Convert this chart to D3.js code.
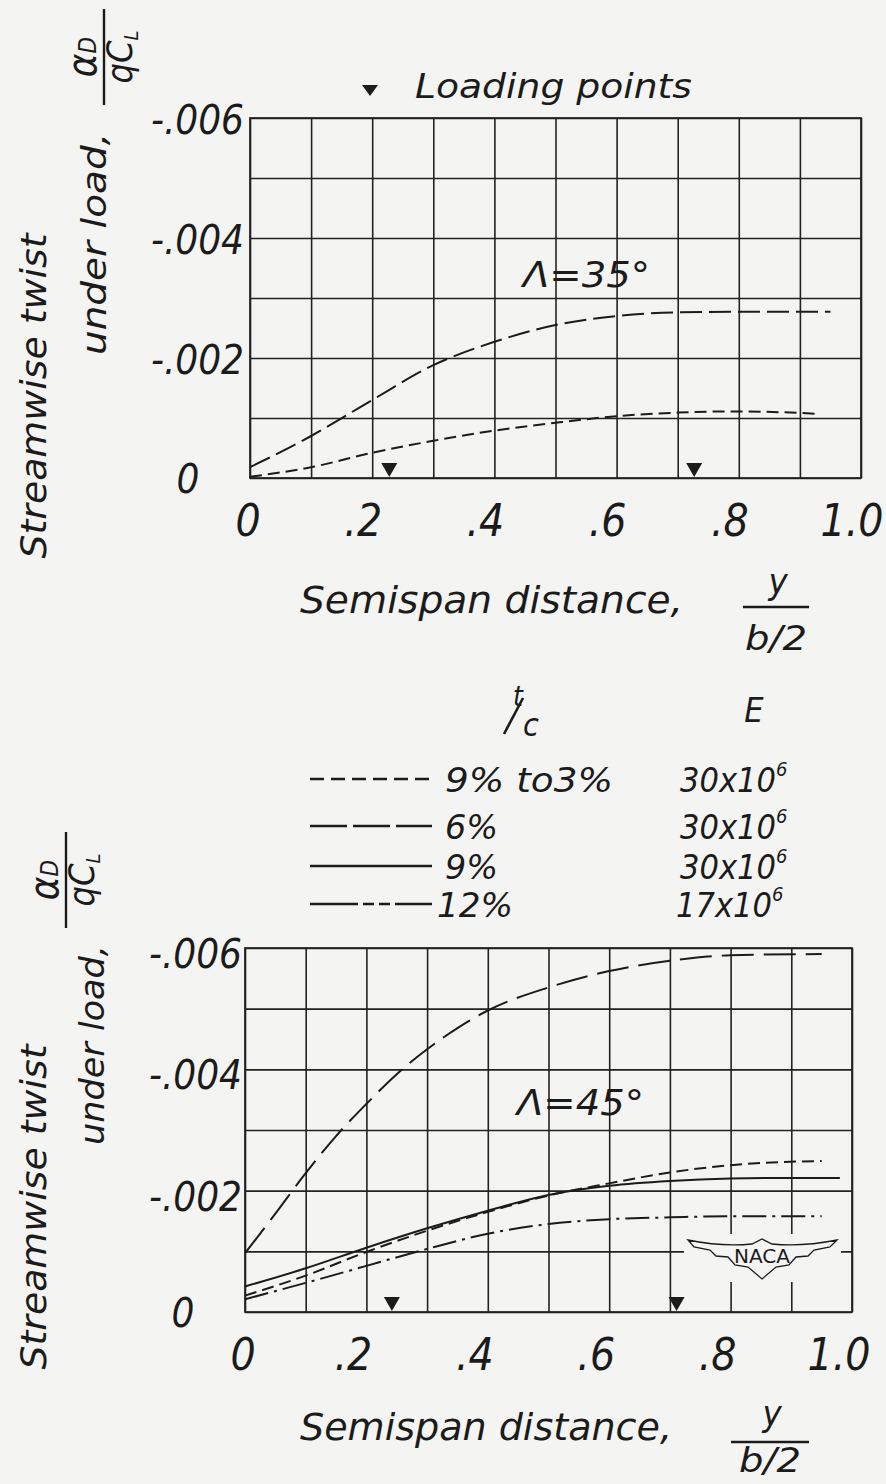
<!DOCTYPE html>
<html>
<head>
<meta charset="utf-8">
<script src="https://cdn.jsdelivr.net/npm/d3@7"></script>
<style>
  body { margin: 0; background: #f4f4f2; }
  svg text { font-family: "DejaVu Sans", "Noto Sans", sans-serif; font-style: oblique; font-stretch: condensed; fill: #1b1b1b; }
</style>
</head>
<body>
<svg id="fig" width="886" height="1484"></svg>
<script>
// ---- axis ticks ----
const xTicks = [0, 0.2, 0.4, 0.6, 0.8, 1.0];
const xTickLabels = ["0", ".2", ".4", ".6", ".8", "1.0"];
const yTicks = [0, -0.002, -0.004, -0.006];
const yTickLabels = ["0", "-.002", "-.004", "-.006"];

// ---- legend entries: t/c and E ----
const seriesKeys = ["t93", "t6", "t9", "t12"];
const seriesTc = ["9% to3%", "6%", "9%", "12%"];
const seriesE = ["30x10", "30x10", "30x10", "17x10"];

// ---- sweep 35 deg: streamwise twist per qC_L vs y/(b/2) ----
const s35_t6_x  = [0, 0.1, 0.2, 0.3, 0.4, 0.5, 0.6, 0.7, 0.8, 0.95];
const s35_t6_y  = [-0.00018, -0.00070, -0.00130, -0.00188, -0.00227, -0.00255, -0.00270, -0.00276, -0.00277, -0.00277];
const s35_t93_x = [0, 0.1, 0.2, 0.3, 0.4, 0.5, 0.6, 0.7, 0.8, 0.93];
const s35_t93_y = [-0.00002, -0.00018, -0.00042, -0.00062, -0.00079, -0.00092, -0.00103, -0.00109, -0.00111, -0.00107];
const s35_loads = [0.228, 0.727];

// ---- sweep 45 deg ----
const s45_t6_x  = [0, 0.05, 0.1, 0.15, 0.2, 0.25, 0.3, 0.35, 0.4, 0.5, 0.6, 0.7, 0.8, 0.95];
const s45_t6_y  = [-0.00097, -0.00162, -0.00229, -0.00290, -0.00343, -0.00392, -0.00433, -0.00468, -0.00497, -0.00535, -0.00562, -0.00579, -0.00588, -0.00590];
const s45_t9_x  = [0, 0.1, 0.2, 0.3, 0.4, 0.5, 0.6, 0.7, 0.8, 0.9, 0.98];
const s45_t9_y  = [-0.00042, -0.00072, -0.00106, -0.00138, -0.00167, -0.00193, -0.00208, -0.00216, -0.00220, -0.00221, -0.00221];
const s45_t93_x = [0, 0.1, 0.2, 0.3, 0.4, 0.5, 0.6, 0.7, 0.8, 0.95];
const s45_t93_y = [-0.00027, -0.00060, -0.00099, -0.00134, -0.00165, -0.00192, -0.00212, -0.00230, -0.00242, -0.00249];
const s45_t12_x = [0, 0.1, 0.2, 0.3, 0.4, 0.5, 0.6, 0.7, 0.8, 0.95];
const s45_t12_y = [-0.00021, -0.00048, -0.00076, -0.00104, -0.00129, -0.00145, -0.00153, -0.00156, -0.00158, -0.00158];
const s45_loads = [0.242, 0.711];

const INK = "#1b1b1b";
const BG = "#f4f4f2";
const svg = d3.select("#fig");
svg.append("rect").attr("width", 886).attr("height", 1484).attr("fill", BG);

const zip = (xs, ys) => xs.map((v, i) => [v, ys[i]]);

function label(g, str, x, y, size, opts = {}) {
  const t = g.append("text").attr("x", x).attr("y", y).attr("font-size", size).text(str);
  if (opts.anchor) t.attr("text-anchor", opts.anchor);
  if (opts.len) t.attr("textLength", opts.len).attr("lengthAdjust", "spacingAndGlyphs");
  if (opts.rotate) t.attr("transform", `rotate(-90,${x},${y})`);
  return t;
}

// rotated "alpha_D / q C_L" fraction
function alphaFrac(cy, barX) {
  const g = svg.append("g");
  g.append("line").attr("x1", barX).attr("x2", barX).attr("y1", cy - 48).attr("y2", cy + 48)
    .attr("stroke", INK).attr("stroke-width", 2.4);
  const num = g.append("text").attr("transform", `translate(${barX - 8},${cy}) rotate(-90)`)
    .attr("text-anchor", "middle").attr("font-size", 40);
  num.append("tspan").text("α");
  num.append("tspan").attr("font-size", 24).text("D");
  const den = g.append("text").attr("transform", `translate(${barX + 28},${cy}) rotate(-90)`)
    .attr("text-anchor", "middle").attr("font-size", 36);
  den.append("tspan").text("qC");
  den.append("tspan").attr("font-size", 20).attr("dy", 6).text("L");
}

// y / (b/2) fraction
function spanFrac(cx, yTop, barY, yBot, barW) {
  const g = svg.append("g");
  label(g, "y", cx + 2, yTop, 36, { anchor: "middle" });
  g.append("line").attr("x1", cx - barW / 2).attr("x2", cx + barW / 2).attr("y1", barY).attr("y2", barY)
    .attr("stroke", INK).attr("stroke-width", 2.4);
  label(g, "b/2", cx, yBot, 34, { anchor: "middle", len: 62 });
}

function chart(o) {
  const x = d3.scaleLinear().domain([0, 1]).range([o.l, o.r]);
  const y = d3.scaleLinear().domain([0, -0.006]).range([o.b, o.t]);
  const g = svg.append("g");

  // grid
  const gx = g.append("g").attr("transform", `translate(0,${o.b})`)
    .call(d3.axisBottom(x).ticks(10).tickSize(-(o.b - o.t)).tickFormat(""));
  const gy = g.append("g").attr("transform", `translate(${o.l},0)`)
    .call(d3.axisLeft(y).ticks(6).tickSize(-(o.r - o.l)).tickFormat(""));
  [gx, gy].forEach(a => {
    a.select(".domain").remove();
    a.selectAll("line").attr("stroke", "#222").attr("stroke-width", 1.6);
  });
  g.append("rect").attr("x", o.l).attr("y", o.t).attr("width", o.r - o.l).attr("height", o.b - o.t)
    .attr("fill", "none").attr("stroke", "#222").attr("stroke-width", 1.7);

  if (o.logo) o.logo(g, x, y);

  // curves
  const line = d3.line().x(d => x(d[0])).y(d => y(d[1])).curve(d3.curveMonotoneX);
  o.series.forEach(s => {
    g.append("path").attr("d", line(s.pts)).attr("fill", "none")
      .attr("stroke", INK).attr("stroke-width", 2)
      .attr("stroke-dasharray", s.dash || null);
  });

  // loading points
  o.loads.forEach(v => {
    const cx = x(v), by = y(0);
    g.append("path").attr("d", `M${cx - 8},${by - 15}L${cx + 8},${by - 15}L${cx},${by - 1}Z`).attr("fill", INK);
  });

  // tick labels
  xTicks.forEach((v, i) => {
    label(g, xTickLabels[i], x(v) + (v === 0 ? -2 : o.xlabDx), o.b + 58, 44, { anchor: "middle" });
  });
  yTicks.forEach((v, i) => {
    if (v === 0) label(g, yTickLabels[i], o.l - 62, y(v) + 15, 40, { anchor: "middle" });
    else label(g, yTickLabels[i], o.l - o.ylabGap, y(v) + o.ylabDy, 40, { anchor: "end" });
  });

  // sweep angle
  label(g, o.sweep, o.sweepX, o.sweepY, 36, { len: 127 });
}

// ---------- upper chart: sweep 35 deg ----------
chart({
  l: 250, r: 861, t: 118, b: 478,
  xlabDx: -9, ylabGap: 6, ylabDy: 16,
  sweep: "Λ=35°", sweepX: 523, sweepY: 287,
  loads: s35_loads,
  series: [
    { pts: zip(s35_t6_x, s35_t6_y), dash: "22,7" },
    { pts: zip(s35_t93_x, s35_t93_y), dash: "12,6" }
  ]
});

// ---------- lower chart: sweep 45 deg ----------
chart({
  l: 245, r: 852, t: 948, b: 1312,
  xlabDx: -13, ylabGap: 3, ylabDy: 20,
  sweep: "Λ=45°", sweepX: 517, sweepY: 1115,
  loads: s45_loads,
  series: [
    { pts: zip(s45_t6_x, s45_t6_y), dash: "32,10" },
    { pts: zip(s45_t9_x, s45_t9_y), dash: null },
    { pts: zip(s45_t93_x, s45_t93_y), dash: "12,6" },
    { pts: zip(s45_t12_x, s45_t12_y), dash: "24,6,3,6" }
  ],
  logo: (g) => {
    const lg = g.append("g");
    lg.append("rect").attr("x", 684).attr("y", 1234).attr("width", 157).attr("height", 48).attr("fill", BG);
    lg.append("path")
      .attr("d", "M688,1240 Q722,1247 752,1244 L762,1239 L772,1244 Q802,1247 837,1240 L830,1247 L814,1250 L808,1256 L796,1257 L789,1265 L776,1267 L762,1279 L748,1267 L735,1265 L728,1257 L716,1256 L710,1250 L694,1247 Z")
      .attr("fill", "none").attr("stroke", INK).attr("stroke-width", 1.3);
    lg.append("text").attr("x", 762).attr("y", 1263).attr("text-anchor", "middle")
      .attr("font-size", 20).style("font-style", "normal").attr("textLength", 56)
      .attr("lengthAdjust", "spacingAndGlyphs").text("NACA");
  }
});

// ---------- axis titles ----------
const titles = svg.append("g");
label(titles, "Streamwise twist", 46, 396, 36, { anchor: "middle", rotate: true, len: 325 });
label(titles, "under load,", 106, 244, 34, { anchor: "middle", rotate: true, len: 222 });
label(titles, "Streamwise twist", 46, 1207, 36, { anchor: "middle", rotate: true, len: 325 });
label(titles, "under load,", 104, 1045, 34, { anchor: "middle", rotate: true, len: 200 });
alphaFrac(57, 104);
alphaFrac(880, 66);

label(titles, "Semispan distance,", 300, 613, 38, { len: 383 });
spanFrac(776, 594, 607, 650, 66);
label(titles, "Semispan distance,", 300, 1440, 38, { len: 372 });
spanFrac(770, 1426, 1442, 1472, 78);

// loading points key
titles.append("path").attr("d", "M362,85L378,85L370,96Z").attr("fill", INK);
label(titles, "Loading points", 415, 98, 34, { len: 277 });

// ---------- legend ----------
const leg = svg.append("g");
label(leg, "t", 518, 706, 28, { anchor: "middle" });
leg.append("line").attr("x1", 504).attr("y1", 734).attr("x2", 523).attr("y2", 698)
  .attr("stroke", INK).attr("stroke-width", 2.6);
label(leg, "c", 531, 736, 32, { anchor: "middle" });
label(leg, "E", 754, 722, 34, { anchor: "middle" });

const legendDash = ["14,7", "37,6", null, "48,5,11,5,11,5,40"];
const rowY = [779, 826, 866, 904];
const rowX = [445, 445, 445, 437];
const rowLen = [168, 53, 53, 76];
seriesKeys.forEach((k, i) => {
  leg.append("line").attr("x1", 310).attr("x2", 432).attr("y1", rowY[i]).attr("y2", rowY[i])
    .attr("stroke", INK).attr("stroke-width", 2.4).attr("stroke-dasharray", legendDash[i]);
  label(leg, seriesTc[i], rowX[i], rowY[i] + 13, 34, { len: rowLen[i] });
  const e = leg.append("text").attr("x", i === 3 ? 676 : 680).attr("y", rowY[i] + 13).attr("font-size", 34);
  e.append("tspan").text(seriesE[i]);
  e.append("tspan").attr("font-size", 20).attr("dy", -16).text("6");
});
</script>
</body>
</html>
